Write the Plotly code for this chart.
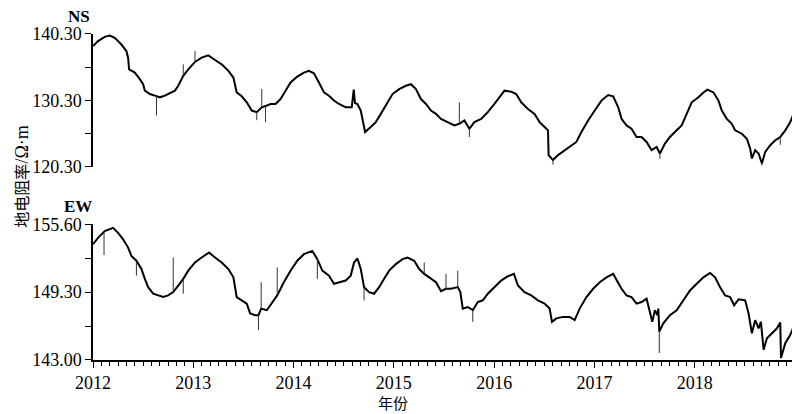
import plotly.graph_objects as go

# ---------------- data ----------------
ns_t = [2012.00, 2012.05, 2012.117, 2012.167, 2012.217, 2012.283, 2012.333, 2012.35, 2012.36, 2012.417,
        2012.467, 2012.50, 2012.517, 2012.567, 2012.617, 2012.667, 2012.717, 2012.767, 2012.817, 2012.85,
        2012.90, 2012.95, 2013.017, 2013.083, 2013.15, 2013.217, 2013.283, 2013.35, 2013.40, 2013.433,
        2013.483, 2013.533, 2013.583, 2013.633, 2013.683, 2013.733, 2013.77, 2013.82, 2013.87, 2013.92,
        2013.97, 2014.037, 2014.103, 2014.153, 2014.203, 2014.253, 2014.303, 2014.353, 2014.403, 2014.453,
        2014.52, 2014.58, 2014.60, 2014.612, 2014.637, 2014.67, 2014.693, 2014.713, 2014.77, 2014.82,
        2014.87, 2014.937, 2014.987, 2015.053, 2015.12, 2015.17, 2015.22, 2015.27, 2015.32, 2015.37,
        2015.42, 2015.47, 2015.537, 2015.603, 2015.653, 2015.703, 2015.753, 2015.803, 2015.87, 2015.937,
        2016.003, 2016.053, 2016.103, 2016.17, 2016.22, 2016.27, 2016.337, 2016.403, 2016.453, 2016.503,
        2016.537, 2016.543, 2016.587, 2016.637, 2016.703, 2016.77, 2016.82, 2016.87, 2016.937, 2017.003,
        2017.07, 2017.137, 2017.187, 2017.237, 2017.27, 2017.32, 2017.37, 2017.42, 2017.47, 2017.52,
        2017.57, 2017.62, 2017.653, 2017.703, 2017.753, 2017.82, 2017.87, 2017.92, 2017.97, 2018.037,
        2018.087, 2018.127, 2018.187, 2018.237, 2018.27, 2018.32, 2018.37, 2018.403, 2018.47, 2018.52,
        2018.553, 2018.57, 2018.603, 2018.637, 2018.67, 2018.703, 2018.753, 2018.803, 2018.853, 2018.903,
        2018.953, 2018.985, 2019.00]
ns_v = [138.46, 139.21, 139.85, 140.05, 139.70, 138.70, 137.72, 136.72, 134.97, 134.48,
        133.48, 132.73, 131.75, 131.24, 131.00, 130.75, 131.00, 131.39, 131.75, 132.49,
        133.99, 134.97, 136.08, 136.72, 137.06, 136.37, 135.72, 134.73, 133.73, 131.49,
        130.90, 130.00, 128.76, 128.51, 129.25, 129.51, 129.75, 129.75, 130.49, 131.75,
        132.99, 133.88, 134.48, 134.73, 134.37, 132.99, 131.49, 131.00, 130.26, 129.75,
        129.25, 129.25, 131.90, 129.90, 129.75, 128.76, 127.02, 125.52, 126.27, 127.02,
        128.26, 130.00, 131.24, 131.99, 132.49, 132.73, 131.99, 130.49, 129.75, 128.76,
        128.26, 127.51, 127.02, 126.52, 126.76, 127.27, 126.02, 127.02, 127.51, 128.51,
        129.75, 130.75, 131.75, 131.60, 131.24, 130.00, 129.00, 128.26, 127.02, 126.27,
        125.78, 122.05, 121.30, 122.05, 122.79, 123.54, 124.03, 125.52, 127.27, 128.76,
        130.26, 131.09, 130.90, 129.25, 127.51, 126.52, 126.02, 124.78, 124.78, 124.03,
        122.79, 123.28, 122.29, 123.78, 124.78, 125.78, 126.52, 128.26, 130.00, 130.75,
        131.49, 131.90, 131.49, 130.26, 128.76, 127.51, 126.76, 125.78, 125.27, 124.52,
        123.03, 121.54, 122.79, 122.29, 120.79, 122.54, 123.54, 124.28, 124.78, 125.78,
        127.02, 128.26, 128.60]

ns_spike_t = [2012.633, 2012.90, 2013.017, 2013.633, 2013.683, 2013.72, 2015.653, 2015.753,
              2016.587, 2017.653, 2018.67, 2018.853]
ns_spike_from = [131.00, 133.99, 136.08, 128.51, 129.25, 129.50, 126.76, 126.02,
                 121.30, 122.29, 120.79, 124.78]
ns_spike_to = [128.02, 135.72, 137.72, 127.31, 131.99, 127.00, 130.00, 124.78,
               120.60, 121.50, 120.45, 123.60]

ew_t = [2012.00, 2012.05, 2012.117, 2012.167, 2012.20, 2012.25, 2012.30, 2012.35, 2012.383, 2012.433,
        2012.483, 2012.517, 2012.55, 2012.60, 2012.65, 2012.70, 2012.75, 2012.80, 2012.85, 2012.90,
        2012.95, 2013.017, 2013.083, 2013.157, 2013.217, 2013.283, 2013.35, 2013.40, 2013.433, 2013.483,
        2013.533, 2013.567, 2013.617, 2013.65, 2013.677, 2013.733, 2013.77, 2013.837, 2013.903, 2013.97,
        2014.037, 2014.103, 2014.187, 2014.237, 2014.287, 2014.353, 2014.403, 2014.453, 2014.52, 2014.57,
        2014.603, 2014.637, 2014.67, 2014.703, 2014.753, 2014.803, 2014.853, 2014.903, 2014.953, 2015.02,
        2015.087, 2015.137, 2015.203, 2015.253, 2015.303, 2015.353, 2015.42, 2015.47, 2015.52, 2015.57,
        2015.637, 2015.663, 2015.687, 2015.737, 2015.787, 2015.837, 2015.887, 2015.937, 2016.003, 2016.07,
        2016.137, 2016.197, 2016.237, 2016.303, 2016.37, 2016.437, 2016.503, 2016.553, 2016.577, 2016.62,
        2016.687, 2016.753, 2016.803, 2016.853, 2016.92, 2016.987, 2017.053, 2017.12, 2017.187, 2017.237,
        2017.27, 2017.32, 2017.37, 2017.42, 2017.47, 2017.52, 2017.553, 2017.577, 2017.603, 2017.627,
        2017.637, 2017.647, 2017.687, 2017.753, 2017.82, 2017.887, 2017.953, 2018.02, 2018.087, 2018.153,
        2018.203, 2018.253, 2018.303, 2018.353, 2018.393, 2018.437, 2018.503, 2018.537, 2018.57, 2018.603,
        2018.637, 2018.66, 2018.687, 2018.72, 2018.77, 2018.82, 2018.853, 2018.86, 2018.903, 2018.953,
        2019.00]
ew_v = [153.74, 154.34, 154.96, 155.17, 155.26, 154.80, 154.20, 153.43, 152.66, 152.21,
        151.44, 150.53, 149.76, 149.15, 148.99, 148.84, 148.99, 149.30, 149.91, 150.53,
        151.29, 152.05, 152.51, 152.97, 152.51, 152.05, 151.44, 150.67, 148.84, 148.54,
        148.23, 147.32, 147.16, 147.16, 147.77, 147.62, 148.08, 148.99, 150.21, 151.29,
        152.21, 152.82, 153.12, 152.36, 151.29, 150.83, 150.07, 150.21, 150.37, 150.83,
        152.05, 152.42, 151.44, 149.76, 149.30, 149.15, 149.76, 150.53, 151.29, 151.90,
        152.36, 152.51, 152.21, 151.44, 150.99, 150.67, 150.21, 149.38, 149.61, 149.61,
        149.76, 149.30, 147.77, 147.92, 147.62, 148.38, 148.54, 149.15, 149.76, 150.37,
        150.77, 150.99, 149.91, 149.30, 148.99, 148.54, 148.23, 147.77, 146.54, 146.86,
        147.00, 147.00, 146.70, 147.77, 148.84, 149.61, 150.21, 150.67, 150.99, 150.21,
        149.61, 148.99, 148.84, 148.23, 148.38, 148.69, 147.46, 146.54, 147.62, 147.16,
        147.77, 145.63, 146.40, 147.16, 147.62, 148.54, 149.45, 150.07, 150.67, 151.08,
        150.67, 149.76, 148.99, 148.84, 148.08, 148.63, 148.54, 147.32, 145.48, 146.70,
        145.94, 146.54, 143.95, 145.02, 145.48, 145.94, 146.49, 143.19, 144.56, 145.33,
        146.40]

ew_spike_t = [2012.11, 2012.433, 2012.80, 2012.90, 2013.65, 2013.677, 2013.837, 2014.237,
              2014.703, 2015.303, 2015.52, 2015.637, 2015.787, 2017.647]
ew_spike_from = [154.90, 152.21, 149.30, 150.53, 147.16, 147.77, 148.99, 152.36,
                 149.76, 150.99, 149.61, 149.76, 147.62, 145.63]
ew_spike_to = [152.73, 150.83, 152.51, 149.15, 145.78, 150.21, 151.59, 150.53,
               148.54, 152.05, 150.99, 151.29, 146.54, 143.65]

year_ticks = [2012, 2013, 2014, 2015, 2016, 2017, 2018, 2019]
year_labels = ["2012", "2013", "2014", "2015", "2016", "2017", "2018", ""]
ns_ticks = [120.30, 125.30, 130.30, 135.30, 140.30]
ns_labels = ["120.30", "", "130.30", "", "140.30"]
ew_ticks = [143.00, 146.15, 149.30, 152.45, 155.60]
ew_labels = ["143.00", "", "149.30", "", "155.60"]


def segs(ts, a, b):
    xs, ys = [], []
    for t, u, v in zip(ts, a, b):
        xs += [t, t, None]
        ys += [u, v, None]
    return xs, ys


fig = go.Figure()
fig.add_trace(go.Scatter(x=ns_t, y=ns_v, mode="lines", xaxis="x", yaxis="y",
                         line=dict(color="black", width=2), showlegend=False))
sx, sy = segs(ns_spike_t, ns_spike_from, ns_spike_to)
fig.add_trace(go.Scatter(x=sx, y=sy, mode="lines", xaxis="x", yaxis="y",
                         line=dict(color="#333333", width=1), showlegend=False))
fig.add_trace(go.Scatter(x=ew_t, y=ew_v, mode="lines", xaxis="x", yaxis="y2",
                         line=dict(color="black", width=2), showlegend=False))
sx, sy = segs(ew_spike_t, ew_spike_from, ew_spike_to)
fig.add_trace(go.Scatter(x=sx, y=sy, mode="lines", xaxis="x", yaxis="y2",
                         line=dict(color="#333333", width=1), showlegend=False))

serif = "Liberation Serif"
tickfont = dict(family=serif, size=18, color="black")

# page has an 8px body margin; figure 792x406 placed at (8,8)
# plot area in page px: x 93..795, y 20..360
fig.update_layout(
    width=792, height=406,
    margin=dict(l=85, r=5, t=12, b=54),
    paper_bgcolor="white", plot_bgcolor="white",
    xaxis=dict(range=[2012, 2019], anchor="y2", showline=True, linecolor="black", linewidth=1.5,
               ticks="outside", ticklen=6, tickwidth=1.2, tickcolor="black",
               tickvals=year_ticks, ticktext=year_labels, tickfont=tickfont,
               showgrid=False, zeroline=False,
               minor=dict(ticks="outside", ticklen=4, tickwidth=1, tickcolor="black",
                          tick0=2012, dtick=1 / 12, showgrid=False)),
    yaxis=dict(domain=[(360 - 165) / 340, (360 - 31) / 340], range=[120.30, 140.30],
               anchor="x", showline=True, linecolor="black", linewidth=1.5,
               ticks="outside", ticklen=6, tickwidth=1.2, tickcolor="black",
               tickvals=ns_ticks, ticktext=ns_labels, tickfont=tickfont,
               showgrid=False, zeroline=False),
    yaxis2=dict(domain=[0, (360 - 223) / 340], range=[143.00, 155.60],
                anchor="x", showline=True, linecolor="black", linewidth=1.5,
                ticks="outside", ticklen=6, tickwidth=1.2, tickcolor="black",
                tickvals=ew_ticks, ticktext=ew_labels, tickfont=tickfont,
                showgrid=False, zeroline=False),
)


def px_x(px):
    return (px - 93) / 702


def px_y(py):
    return (360 - py) / 340


def note(text, px, py, font, angle=0):
    fig.add_annotation(text=text, x=px_x(px), y=px_y(py), xref="paper", yref="paper",
                       xanchor="center", yanchor="middle", textangle=angle, borderpad=0,
                       showarrow=False, font=font)


note("<b>NS</b>", 79, 13, dict(family=serif, size=17, color="black"))
note("<b>EW</b>", 78, 205, dict(family=serif, size=17, color="black"))
note("地电阻率<span style='font-family:Liberation Serif;font-size:18px'>/Ω·m</span>", 21, 175,
     dict(family="Noto Sans CJK SC", size=16, color="black"), angle=-90)
note("年份", 393, 402.5, dict(family="Noto Sans CJK SC", size=15, color="black"))

fig.write_html("out.html")
